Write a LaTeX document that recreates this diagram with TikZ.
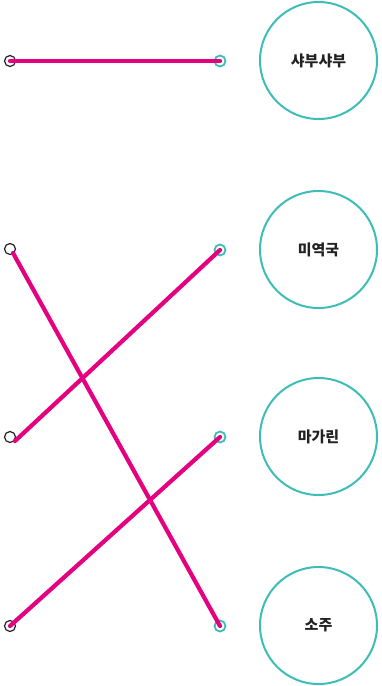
\documentclass[tikz,border=0pt]{standalone}
\usepackage{fontspec}
\newfontfamily\cjk{Noto Sans CJK KR}
\usepackage{tikz}
\usepackage{xcolor}
\usetikzlibrary{positioning}
\definecolor{magenta}{HTML}{E4007F}
\definecolor{teal}{HTML}{3DBDB7}
\definecolor{ink}{HTML}{222222}
\tikzset{
  leftdot/.style={circle, draw=ink, fill=white, line width=1.2pt,
                  minimum size=11pt, inner sep=0pt},
  rightdot/.style={circle, draw=teal, fill=white, line width=1.8pt,
                   minimum size=11pt, inner sep=0pt},
  item/.style={circle, draw=teal, line width=2pt, minimum size=117pt,
               inner sep=0pt, font=\cjk\bfseries\fontsize{15}{17}\selectfont, text=ink},
  link/.style={draw=magenta, line width=4.2pt, line cap=round}
}

\begin{document}
\begin{tikzpicture}[x=1pt,y=-1pt]
        \useasboundingbox (0,0) rectangle (382,686);
        % left column
        \node[leftdot] (l1) at (10,61) {};
        \node[leftdot] (l2) at (10,249) {};
        \node[leftdot] (l3) at (10,437) {};
        \node[leftdot] (l4) at (10,626) {};
        % right column
        \node[rightdot] (r1) at (220,61) {};
        \node[rightdot] (r2) at (220,250) {};
        \node[rightdot] (r3) at (220,437) {};
        \node[rightdot] (r4) at (220,626) {};
        % answers
        \node[item] (c1) at (318.5,60.5) {샤부샤부};
        \node[item] (c2) at (318.5,249.5) {미역국};
        \node[item] (c3) at (318.5,436.5) {마가린};
        \node[item] (c4) at (318.5,625.5) {소주};
        % matching lines
        \draw[link] (l1.center) -- (r1.center);
        \draw[link] ([shift={(3,4)}]l2.center) -- (r4.center);
        \draw[link] ([shift={(5,4)}]l3.center) -- (r2.center);
        \draw[link] (l4.center) -- (r3.center);
      \end{tikzpicture}
\end{document}
